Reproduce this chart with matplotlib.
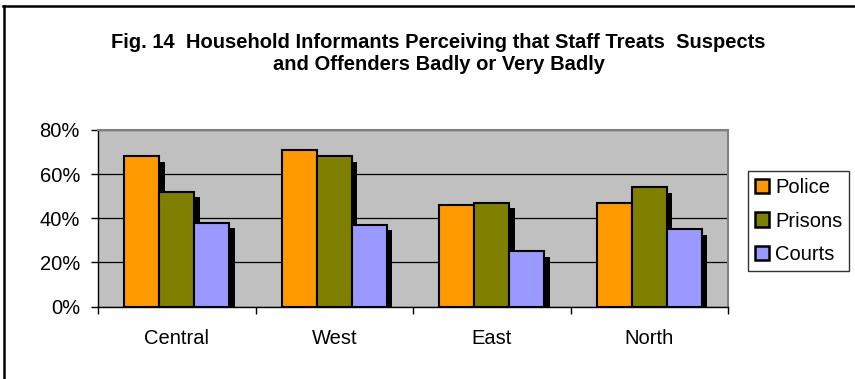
import matplotlib.pyplot as plt
import matplotlib.patheffects as pe
from matplotlib.lines import Line2D
from matplotlib.ticker import FixedLocator, PercentFormatter
import numpy as np

# data
regions = ["Central", "West", "East", "North"]
police = [68, 71, 46, 47]
prisons = [52, 68, 47, 54]
courts = [38, 37, 25, 35]
series_names = ["Police", "Prisons", "Courts"]
colors = ["#FF9900", "#808000", "#9999FF"]

plt.rcParams['font.family'] = ['Liberation Sans', 'DejaVu Sans']

fig = plt.figure(figsize=(8.55, 3.79), dpi=100)
ax = fig.add_axes([98/855, 1 - 306.5/379, 630/855, 176.5/379])
ax.set_facecolor("#C0C0C0")

x = np.arange(len(regions))
w = 0.222
shadow = [pe.SimplePatchShadow(offset=(4, -4), shadow_rgbFace="black", alpha=1), pe.Normal()]
for i, (vals, name, c) in enumerate(zip([police, prisons, courts], series_names, colors)):
    bars = ax.bar(x + (i - 1) * w, vals, w, color=c, edgecolor="black", linewidth=1.5,
                  label=name, zorder=3)
    for b in bars:
        b.set_path_effects(shadow)

ax.set_xlim(-0.5, 3.5)
ax.set_ylim(0, 80)
ax.set_yticks([0, 20, 40, 60, 80])
ax.yaxis.set_major_formatter(PercentFormatter(decimals=0))
ax.yaxis.grid(True, color="black", linewidth=0.9, zorder=1)
ax.set_axisbelow(True)

ax.set_xticks(x)
ax.set_xticklabels(regions)
ax.xaxis.set_minor_locator(FixedLocator(np.arange(-0.5, 4, 1)))
ax.tick_params(axis="x", which="major", length=0, pad=16, labelsize=14.5)
ax.tick_params(axis="x", which="minor", length=5, width=1, direction="out")
ax.tick_params(axis="y", length=5, width=1, pad=8, labelsize=14.5)

for s in ["top", "right"]:
    ax.spines[s].set_color("#808080")
    ax.spines[s].set_linewidth(1.5)
for s in ["left", "bottom"]:
    ax.spines[s].set_color("black")
    ax.spines[s].set_linewidth(1)

leg = ax.legend(loc="upper left", bbox_to_anchor=(748/855, 1 - 171/379),
                bbox_transform=fig.transFigure, fontsize=14.5, frameon=True,
                fancybox=False, edgecolor="black", handlelength=0.7, handleheight=0.7,
                handletextpad=0.3, labelspacing=0.72, borderpad=0.35, borderaxespad=0)
leg.get_frame().set_linewidth(1)
for h in leg.legend_handles:
    h.set_path_effects([])
    h.set_linewidth(1.8)

fig.text(0.513, 1 - 42/379, "Fig. 14  Household Informants Perceiving that Staff Treats  Suspects",
         ha="center", va="center", fontsize=14.5, fontweight="bold")
fig.text(0.513, 1 - 65/379, "and Offenders Badly or Very Badly",
         ha="center", va="center", fontsize=14.5, fontweight="bold")

# outer chart frame (cut off at right and bottom)
fig.add_artist(Line2D([3.5/855, 3.5/855], [0, 1 - 6/379], color="black", linewidth=1.8))
fig.add_artist(Line2D([3/855, 1], [1 - 6/379, 1 - 6/379], color="black", linewidth=1.8))

fig.savefig("out.png", dpi=100)
